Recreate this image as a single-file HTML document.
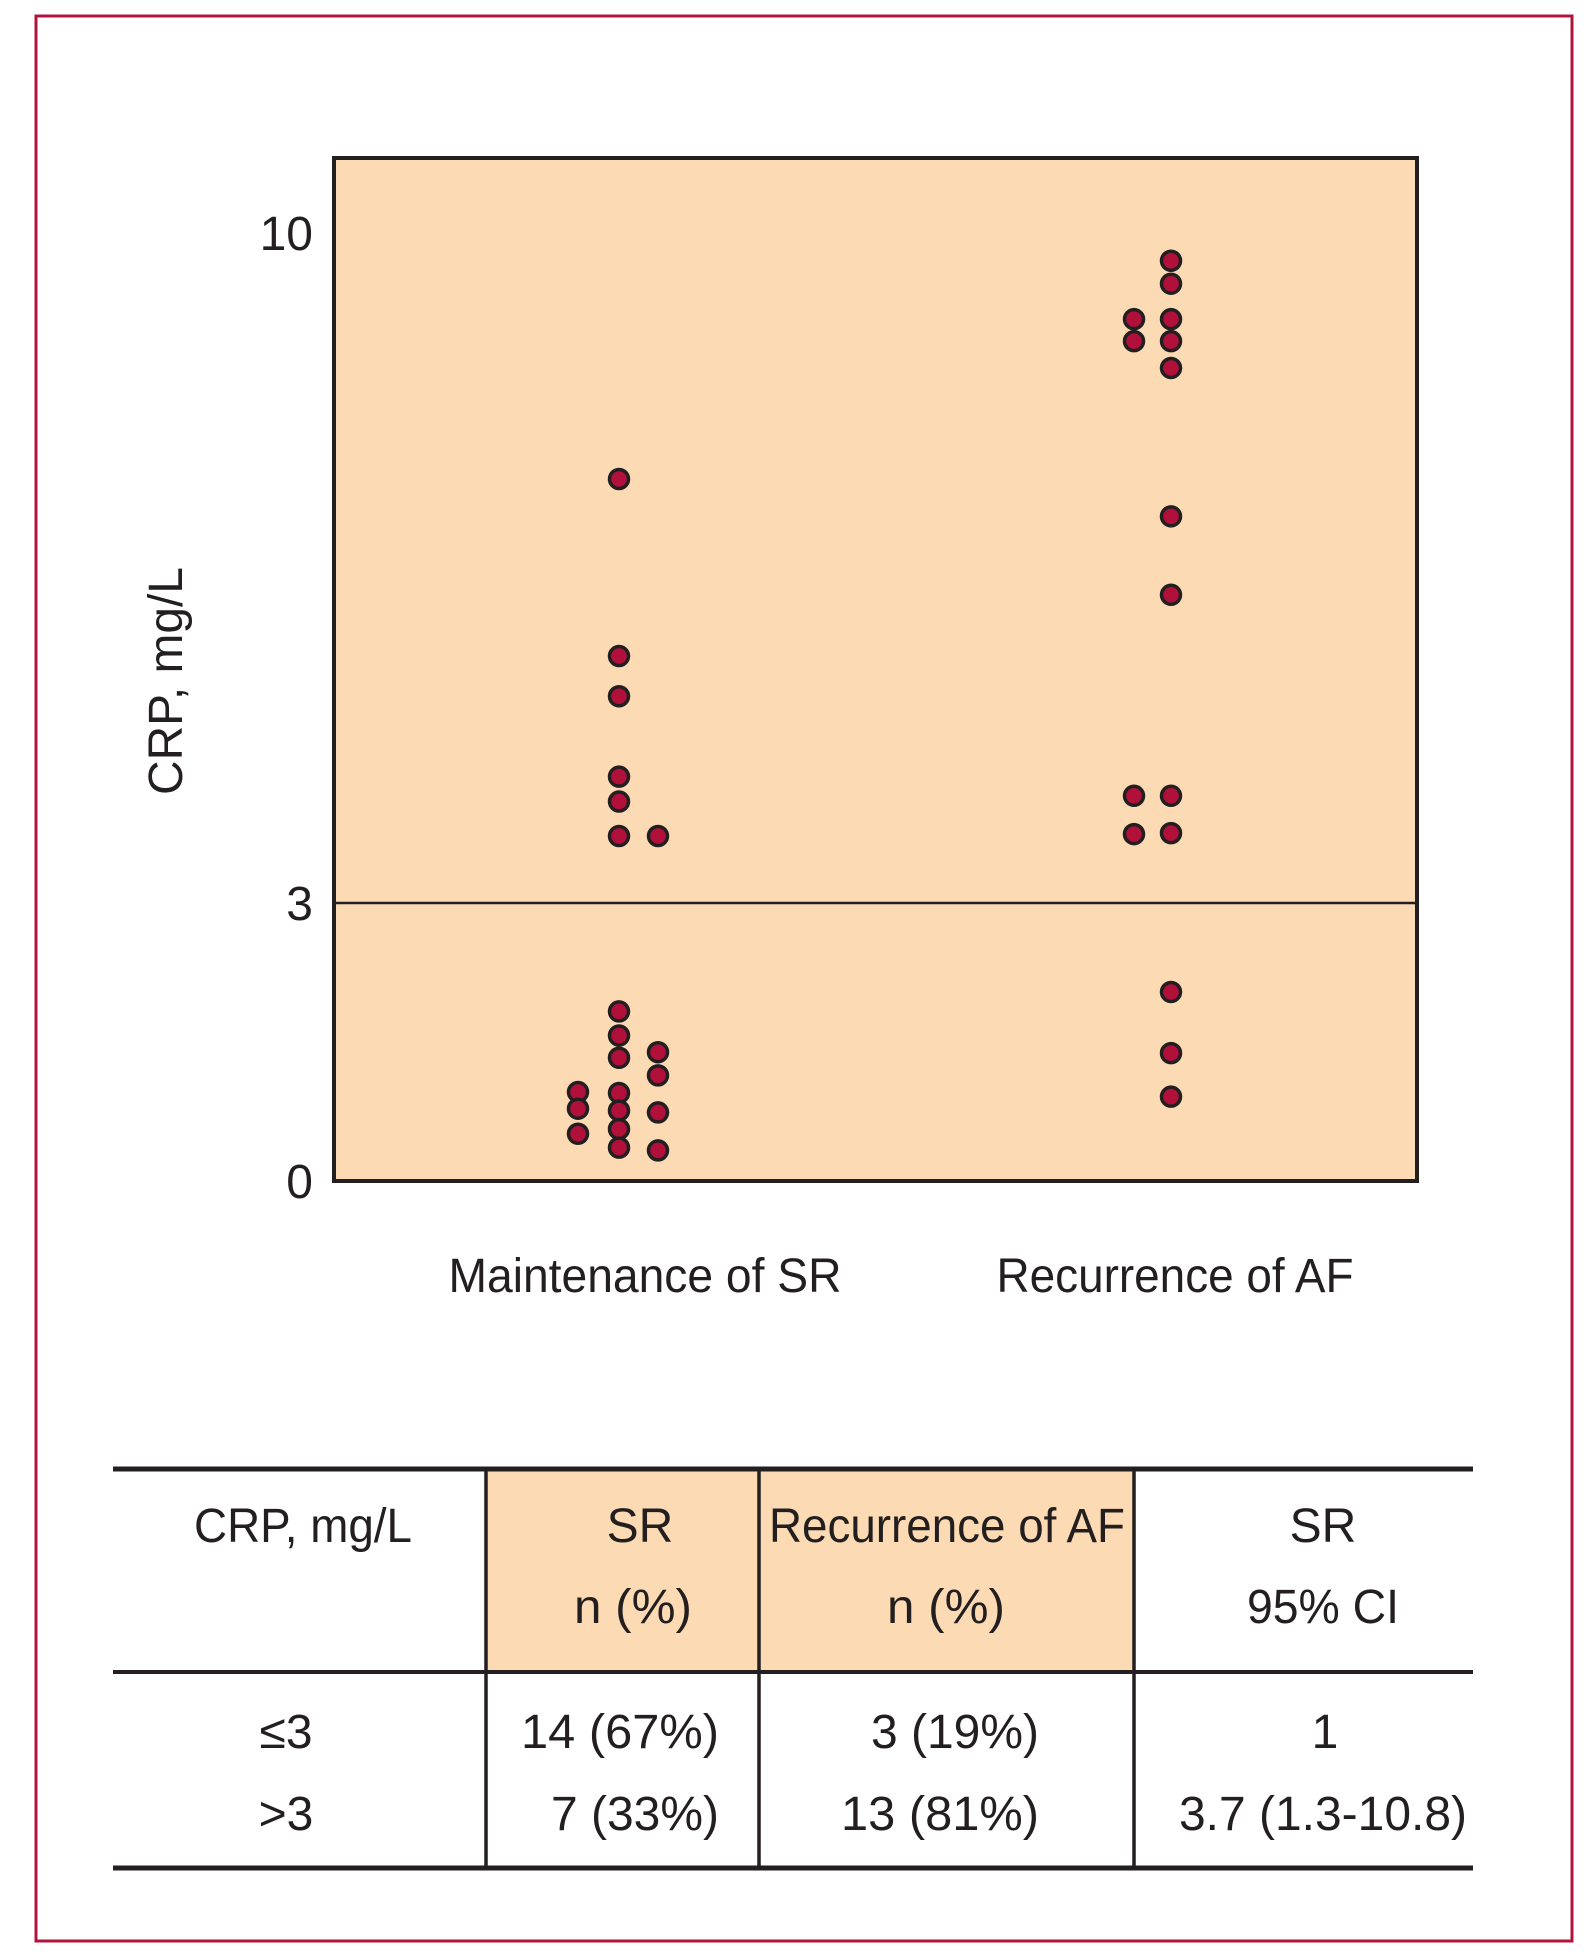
<!DOCTYPE html>
<html><head><meta charset="utf-8"><style>
html,body{margin:0;padding:0;background:#fff;}
svg{display:block;}
text{font-family:"Liberation Sans Narrow","Liberation Sans",sans-serif;fill:#231f20;font-size:48px;}
</style></head><body>
<svg id="fig" width="1595" height="1960" viewBox="0 0 1595 1960" xmlns="http://www.w3.org/2000/svg">
<rect x="36" y="16" width="1536" height="1925" fill="none" stroke="#b0143c" stroke-width="3"/>
<rect x="334" y="158" width="1083" height="1023" fill="#fcdab3" stroke="#231f20" stroke-width="4"/>
<g id="ticks"></g>
<line id="cutline" x1="334" x2="1417" stroke="#231f20" stroke-width="2.5"/>
<g id="dots"></g>
<text x="166" y="681" text-anchor="middle" transform="rotate(-90 166 681)" textLength="228" lengthAdjust="spacingAndGlyphs" dy="16">CRP, mg/L</text>
<text x="645" y="1292" text-anchor="middle" textLength="393" lengthAdjust="spacingAndGlyphs">Maintenance of SR</text>
<text x="1175" y="1292" text-anchor="middle" textLength="357" lengthAdjust="spacingAndGlyphs">Recurrence of AF</text>

<g transform="translate(1,5)">
<rect x="485" y="1464" width="273" height="203" fill="#fcdab3"/>
<rect x="758" y="1464" width="375" height="203" fill="#fcdab3"/>
<line x1="112" x2="1472" y1="1464" y2="1464" stroke="#231f20" stroke-width="5"/>
<line x1="112" x2="1472" y1="1667" y2="1667" stroke="#231f20" stroke-width="4"/>
<line x1="112" x2="1472" y1="1863" y2="1863" stroke="#231f20" stroke-width="5"/>
<line x1="485" x2="485" y1="1464" y2="1863" stroke="#231f20" stroke-width="3.5"/>
<line x1="758" x2="758" y1="1464" y2="1863" stroke="#231f20" stroke-width="3.5"/>
<line x1="1133" x2="1133" y1="1464" y2="1863" stroke="#231f20" stroke-width="3.5"/>
<text x="302" y="1537" text-anchor="middle" textLength="218" lengthAdjust="spacingAndGlyphs">CRP, mg/L</text>
<text x="639" y="1537" text-anchor="middle">SR</text>
<text x="632" y="1618" text-anchor="middle" textLength="118" lengthAdjust="spacingAndGlyphs">n (%)</text>
<text x="946" y="1537" text-anchor="middle" textLength="356" lengthAdjust="spacingAndGlyphs">Recurrence of AF</text>
<text x="945" y="1618" text-anchor="middle" textLength="118" lengthAdjust="spacingAndGlyphs">n (%)</text>
<text x="1322" y="1537" text-anchor="middle">SR</text>
<text x="1322" y="1618" text-anchor="middle" textLength="152" lengthAdjust="spacingAndGlyphs">95% CI</text>
<text x="285" y="1743" text-anchor="middle">≤3</text>
<text x="285" y="1825" text-anchor="middle">&gt;3</text>
<text x="718" y="1743" text-anchor="end" textLength="198" lengthAdjust="spacingAndGlyphs">14 (67%)</text>
<text x="718" y="1825" text-anchor="end" textLength="168" lengthAdjust="spacingAndGlyphs">7 (33%)</text>
<text x="1038" y="1743" text-anchor="end" textLength="168" lengthAdjust="spacingAndGlyphs">3 (19%)</text>
<text x="1038" y="1825" text-anchor="end" textLength="198" lengthAdjust="spacingAndGlyphs">13 (81%)</text>
<text x="1324" y="1743" text-anchor="middle">1</text>
<text x="1322" y="1825" text-anchor="middle" textLength="288" lengthAdjust="spacingAndGlyphs">3.7 (1.3-10.8)</text>
</g>
</svg>
<script>
const tickValues = [0, 3, 10];
const tickLabels = ["0", "3", "10"];
const threshold = 3;
// columns: 0=SR left,1=SR mid,2=SR right,3=AF left,4=AF right
const pointColumns = [1,1,1,1,1,1,2, 1,1,1,1,1,1,1, 0,0,0, 2,2,2,2,
  4,4,4,4,4,4,4,4,4, 3,3,3,3, 4,4,4];
const pointValues = [7.43,5.58,5.16,4.32,4.06,3.70,3.70, 1.83,1.57,1.33,0.95,0.76,0.56,0.36, 0.96,0.78,0.51, 1.39,1.14,0.74,0.33,
  9.71,9.47,9.10,8.87,8.59,7.04,6.22,4.12,3.73, 9.10,8.87,4.12,3.72, 2.04,1.38,0.91];

function yScale(v){
  if (v <= 3) return 1181 - v * (1181 - 903) / 3;
  return 903 - (v - 3) * (903 - 233) / 7;
}
function xScale(c){
  return [578, 619, 658, 1134, 1171][c];
}
const NS = "http://www.w3.org/2000/svg";
const ticks = document.getElementById('ticks');
tickValues.forEach((v, i) => {
  const t = document.createElementNS(NS, 'text');
  t.setAttribute('x', 313);
  t.setAttribute('y', yScale(v) + 17);
  t.setAttribute('text-anchor', 'end');
  
  
  t.textContent = tickLabels[i];
  ticks.appendChild(t);
});
const cl = document.getElementById('cutline');
cl.setAttribute('y1', yScale(threshold));
cl.setAttribute('y2', yScale(threshold));
const dots = document.getElementById('dots');
pointValues.forEach((v, i) => {
  const c = document.createElementNS(NS, 'circle');
  c.setAttribute('cx', xScale(pointColumns[i]));
  c.setAttribute('cy', yScale(v));
  c.setAttribute('r', 9.5);
  c.setAttribute('fill', '#b0103a');
  c.setAttribute('stroke', '#231f20');
  c.setAttribute('stroke-width', 3.5);
  
  
  dots.appendChild(c);
});
</script>
</body></html>
